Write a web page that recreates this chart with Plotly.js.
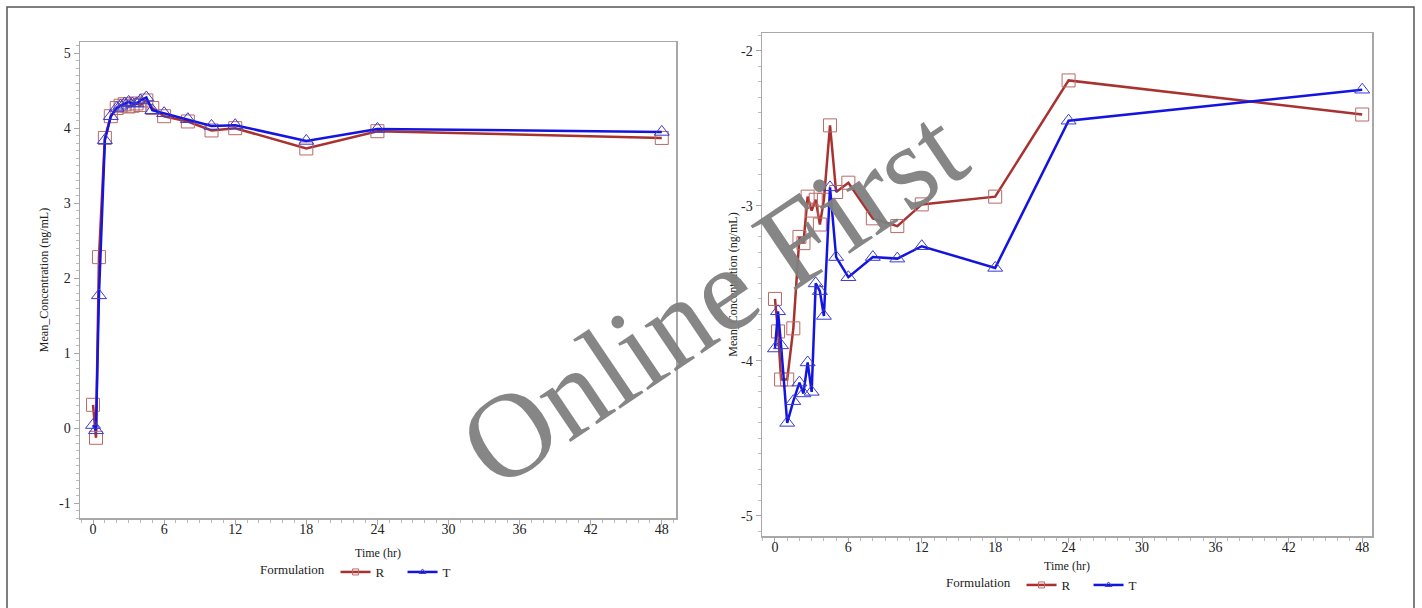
<!DOCTYPE html>
<html>
<head>
<meta charset="utf-8">
<script src="https://cdn.plot.ly/plotly-3.0.1.min.js"></script>
<style>html,body{margin:0;padding:0;background:#fff;}#chart{width:1422px;height:608px;}</style>
</head>
<body>
<div id="chart"></div>
<script>
// Time points (hr)
const timeHr = [0, 0.25, 0.5, 1, 1.5, 2, 2.33, 2.67, 3, 3.33, 3.67, 4, 4.5, 5, 6, 8, 10, 12, 18, 24, 48];

// Left panel: mean concentration (ng/mL)
const leftR = [0.31, -0.13, 2.28, 3.87, 4.16, 4.27, 4.30, 4.32, 4.29, 4.30, 4.33, 4.31, 4.37, 4.27, 4.16, 4.09, 3.97, 4.00, 3.73, 3.96, 3.87];
const leftT = [0.04, -0.03, 1.77, 3.84, 4.16, 4.27, 4.30, 4.33, 4.35, 4.33, 4.33, 4.37, 4.41, 4.24, 4.20, 4.12, 4.03, 4.04, 3.83, 3.99, 3.95];

// Right panel: mean concentration (ng/mL)
const rightR = [-3.60, -3.81, -4.12, -4.12, -3.79, -3.20, -3.24, -2.94, -3.03, -2.96, -3.12, -2.96, -2.48, -2.91, -2.85, -3.08, -3.13, -2.99, -2.94, -2.19, -2.41];
const rightT = [-3.92, -3.68, -3.90, -4.40, -4.26, -4.14, -4.21, -4.01, -4.20, -3.50, -3.55, -3.71, -2.88, -3.33, -3.46, -3.33, -3.34, -3.26, -3.40, -2.45, -2.25];

const xTicks = [0, 6, 12, 18, 24, 30, 36, 42, 48];
const leftYTicks = [-1, 0, 1, 2, 3, 4, 5];
const rightYTicks = [-5, -4, -3, -2];
const seriesNames = ['R', 'T'];

const W = 1422, H = 608;
const serif = '"Liberation Serif", "Times New Roman", serif';
const redLine = '#a8322f', redMarker = '#b86a66';
const blueLine = '#1414e0', blueMarker = '#3a3ad0';

function rTrace(x, y, xa, ya, leg, msize, showleg) {
  return {x: x, y: y, xaxis: xa, yaxis: ya, name: seriesNames[0], legend: leg, showlegend: showleg,
    type: 'scatter', mode: 'lines+markers',
    line: {color: redLine, width: 2.5},
    marker: {symbol: 'square-open', size: msize, color: redMarker, line: {width: 1, color: redMarker}}};
}
function tTrace(x, y, xa, ya, leg, msize, showleg) {
  return {x: x, y: y, xaxis: xa, yaxis: ya, name: seriesNames[1], legend: leg, showlegend: showleg,
    type: 'scatter', mode: 'lines+markers',
    line: {color: blueLine, width: 2.5},
    marker: {symbol: 'triangle-up-open', size: msize, color: blueMarker, line: {width: 1, color: blueMarker}}};
}

const data = [
  rTrace(timeHr, leftR, 'x', 'y', 'legend', 13, false),
  tTrace(timeHr, leftT, 'x', 'y', 'legend', 13, false),
  rTrace(timeHr, rightR, 'x2', 'y2', 'legend2', 13, false),
  tTrace(timeHr, rightT, 'x2', 'y2', 'legend2', 13, false),
  // legend-only entries (small markers, as in the original key)
  rTrace([null], [null], 'x', 'y', 'legend', 6, true),
  tTrace([null], [null], 'x', 'y', 'legend', 6, true),
  rTrace([null], [null], 'x2', 'y2', 'legend2', 6, true),
  tTrace([null], [null], 'x2', 'y2', 'legend2', 6, true)
];

function axisBase() {
  return {
    showline: true, mirror: true, linecolor: '#a8a8a8', linewidth: 1.5,
    showgrid: false, zeroline: false,
    ticks: 'outside', ticklen: 5, tickcolor: '#a8a8a8', tickwidth: 1,
    tickfont: {family: serif, size: 14, color: '#222'},
    minor: {ticks: 'outside', ticklen: 3, tickcolor: '#bbbbbb', showgrid: false}
  };
}

const xa1 = Object.assign(axisBase(), {
  domain: [80 / W, 676 / W], range: [-1.1, 49.2], anchor: 'y',
  tickmode: 'array', tickvals: xTicks, ticktext: xTicks.map(String), ticklabelstandoff: -7
});
xa1.minor.dtick = 1; xa1.minor.tick0 = 0;
const ya1 = Object.assign(axisBase(), {
  domain: [1 - 518 / H, 1 - 42 / H], range: [-1.2, 5.15], anchor: 'x',
  tickmode: 'array', tickvals: leftYTicks, ticktext: leftYTicks.map(String),
  title: {text: 'Mean_Concentration (ng/mL)', font: {family: serif, size: 12, color: '#222'}, standoff: 8}
});
ya1.minor.dtick = 0.1; ya1.minor.tick0 = 0;

const xa2 = Object.assign(axisBase(), {
  domain: [762 / W, 1372 / W], range: [-1.06, 48.8], anchor: 'y2',
  tickmode: 'array', tickvals: xTicks, ticktext: xTicks.map(String), ticklabelstandoff: -7
});
xa2.minor.dtick = 1; xa2.minor.tick0 = 0;
const ya2 = Object.assign(axisBase(), {
  domain: [1 - 536 / H, 1 - 33 / H], range: [-5.13, -1.884], anchor: 'x2',
  tickmode: 'array', tickvals: rightYTicks, ticktext: rightYTicks.map(String),
  title: {text: 'Mean_Concentration (ng/mL)', font: {family: serif, size: 12, color: '#222'}, standoff: 1}
});
ya2.minor.dtick = 0.1; ya2.minor.tick0 = 0;

function legendCfg(x, y) {
  return {
    x: x, y: y, xanchor: 'left', yanchor: 'middle', orientation: 'h',
    title: {text: 'Formulation ', side: 'left', font: {family: serif, size: 13, color: '#222'}},
    font: {family: serif, size: 13, color: '#222'},
    bgcolor: 'rgba(0,0,0,0)', itemwidth: 30, entrywidth: 22, entrywidthmode: 'pixels', tracegroupgap: 0
  };
}

const layout = {
  width: W, height: H,
  margin: {l: 0, r: 0, t: 0, b: 0},
  paper_bgcolor: '#ffffff', plot_bgcolor: '#ffffff',
  showlegend: true,
  xaxis: xa1, yaxis: ya1, xaxis2: xa2, yaxis2: ya2,
  legend: legendCfg(258 / W, 1 - 572 / H),
  legend2: legendCfg(944 / W, 1 - 585 / H),
  shapes: [
    {type: 'rect', xref: 'paper', yref: 'paper', x0: 7 / W, x1: 1414 / W, y0: -0.2, y1: 1 - 7 / H,
     line: {color: '#555555', width: 1.5}, fillcolor: 'rgba(0,0,0,0)', layer: 'below'}
  ],
  annotations: [
    {text: 'Time (hr)', xref: 'x domain', yref: 'paper', x: 0.5, y: 1 - 553 / H,
     xanchor: 'center', yanchor: 'middle', showarrow: false,
     font: {family: serif, size: 12, color: '#222'}},
    {text: 'Time (hr)', xref: 'x2 domain', yref: 'paper', x: 0.5, y: 1 - 566 / H,
     xanchor: 'center', yanchor: 'middle', showarrow: false,
     font: {family: serif, size: 12, color: '#222'}},
    {text: 'Online First', xref: 'paper', yref: 'paper', x: 712 / W, y: 1 - 297 / H,
     xanchor: 'center', yanchor: 'middle', showarrow: false, textangle: -34,
     font: {family: serif, size: 120, color: 'rgba(128,128,128,0.95)'}}
  ]
};

Plotly.newPlot('chart', data, layout, {displayModeBar: false, staticPlot: true});
</script>
</body>
</html>
